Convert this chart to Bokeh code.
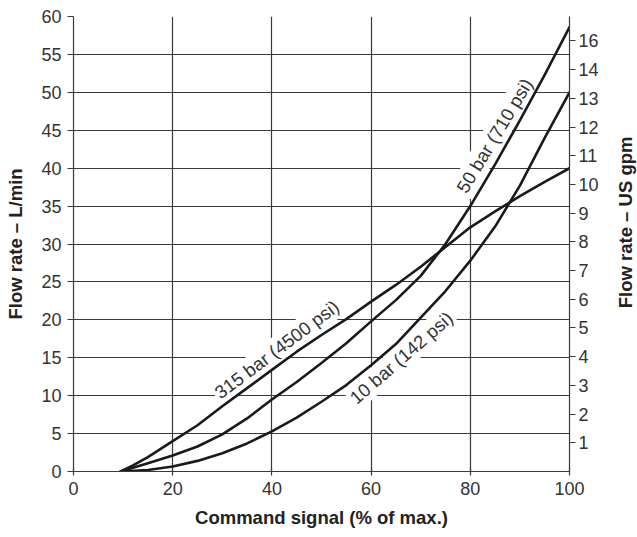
from bokeh.plotting import figure
from bokeh.models import Range1d, LinearAxis, FixedTicker
from bokeh.layouts import row
from bokeh.core.properties import value
from bokeh.embed import file_html
from bokeh.resources import INLINE
import math

# ---- data ----
signal_315 = [9.5, 12, 15, 20, 25, 30, 35, 40, 45, 50, 55, 60, 65, 70, 75, 80, 85, 90, 95, 100]
flow_315 = [0, 0.8, 1.9, 4.0, 6.1, 8.6, 11.0, 13.4, 15.8, 18.0, 20.1, 22.4, 24.6, 27.0, 29.6, 32.2, 34.3, 36.3, 38.2, 40.0]

signal_50 = [9.5, 12, 15, 20, 25, 30, 35, 40, 45, 50, 55, 60, 65, 70, 75, 80, 85, 90, 95, 100]
flow_50 = [0, 0.5, 1.1, 2.1, 3.3, 4.9, 7.0, 9.5, 11.8, 14.3, 16.9, 19.8, 22.6, 25.8, 30.0, 35.0, 40.5, 46.3, 52.3, 58.6]

signal_10 = [9.5, 15, 20, 25, 30, 35, 40, 45, 50, 55, 60, 65, 70, 75, 80, 85, 90, 95, 100]
flow_10 = [0, 0.2, 0.65, 1.4, 2.4, 3.7, 5.3, 7.1, 9.2, 11.4, 14.0, 16.8, 20.3, 23.8, 27.8, 32.3, 37.7, 44.0, 50.0]

curve_labels = ["315 bar (4500 psi)", "50 bar (710 psi)", "10 bar (142 psi)"]

x_ticks = [0, 20, 40, 60, 80, 100]
y_ticks = [0, 5, 10, 15, 20, 25, 30, 35, 40, 45, 50, 55, 60]
gpm_ticks = [1, 2, 3, 4, 5, 6, 7, 8, 9, 10, 11, 12, 13, 14, 15]
gpm_labels = {15: "16"}
LPM_PER_GPM = 3.785411784

FONT = "Liberation Sans"
TXT = "#333333"
GRID = "#3a3a3a"

p = figure(width=612, height=537, x_range=Range1d(0, 100), y_range=Range1d(0, 60),
           output_backend="svg", toolbar_location=None,
           min_border_left=73, min_border_right=43, min_border_top=16, min_border_bottom=66)
p.outline_line_color = None
p.background_fill_color = "white"
p.border_fill_color = "white"

# grids
p.xgrid.ticker = FixedTicker(ticks=[20, 40, 60, 80])
p.ygrid.ticker = FixedTicker(ticks=y_ticks[1:])
for g in (p.xgrid, p.ygrid):
    g.grid_line_color = GRID
    g.grid_line_width = 1.2

# x axis
xa = p.xaxis[0]
xa.ticker = FixedTicker(ticks=x_ticks)
xa.major_tick_in = 4
xa.major_tick_out = 4
xa.minor_tick_line_color = None
xa.axis_label = "Command signal (% of max.)"

# left axis
ya = p.yaxis[0]
ya.ticker = FixedTicker(ticks=y_ticks)
ya.major_tick_in = 0
ya.major_tick_out = 6
ya.minor_tick_line_color = None
ya.axis_label = "Flow rate \u2013 L/min"

# right axis (US gpm)
p.extra_y_ranges = {"gpm": Range1d(0, 60 / LPM_PER_GPM)}
ra = LinearAxis(y_range_name="gpm", ticker=FixedTicker(ticks=gpm_ticks),
                major_label_overrides=gpm_labels)
ra.major_tick_in = 0
ra.major_tick_out = 6
ra.minor_tick_line_color = None
p.add_layout(ra, "right")

for ax in (xa, ya, ra):
    ax.axis_line_color = GRID
    ax.axis_line_width = 1.2
    ax.major_tick_line_color = GRID
    ax.major_tick_line_width = 1.2
    ax.major_label_text_font = FONT
    ax.major_label_text_font_size = "18px"
    ax.major_label_text_color = TXT
    ax.axis_label_text_font = FONT
    ax.axis_label_text_font_size = "18.5px"
    ax.axis_label_text_font_style = "bold"
    ax.axis_label_text_color = "#222222"

xa.major_label_standoff = 6
xa.axis_label_standoff = 9
ya.major_label_standoff = 6
ya.axis_label_standoff = 12
ra.major_label_standoff = 3

# curve labels (drawn first so the curves sit on top)
label_x = [41.0, 84.9, 66.1]
label_y = [16.1, 44.3, 15.0]
label_angle = [math.radians(37), math.radians(59), math.radians(41)]
p.text(x=label_x, y=label_y, text=curve_labels, angle=label_angle,
       text_align="center", text_baseline="middle",
       text_font=value(FONT), text_font_size="18.5px", text_color=TXT,
       background_fill_color="white", padding=2)

for xs, ys in ((signal_315, flow_315), (signal_50, flow_50), (signal_10, flow_10)):
    p.line(xs, ys, line_color="#1a1a1a", line_width=2.6, line_join="round", line_cap="round")

# narrow strip on the right carrying the right-hand axis title (reads bottom to top)
t = figure(width=25, height=537, x_range=Range1d(-12.5, 12.5), y_range=Range1d(-294, 243),
           output_backend="svg", toolbar_location=None,
           x_axis_location=None, y_axis_location=None, min_border=0)
t.outline_line_color = None
t.grid.visible = False
t.text(x=[0], y=[0], text=["Flow rate \u2013 US gpm"], angle=math.pi / 2,
       text_align="center", text_baseline="middle",
       text_font=value(FONT), text_font_size="18.5px", text_font_style="bold",
       text_color="#222222")

layout = row(p, t, spacing=0)
open("out.html", "w").write(file_html(layout, INLINE))
